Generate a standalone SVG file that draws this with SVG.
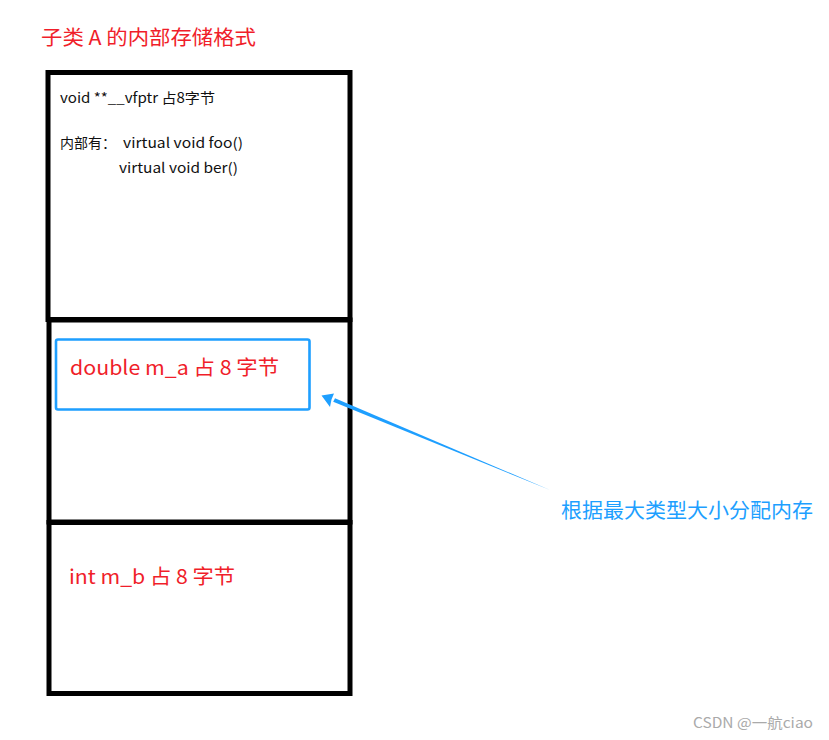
<svg xmlns="http://www.w3.org/2000/svg" width="829" height="740" viewBox="0 0 829 740">
<style>
text{font-family:"Microsoft YaHei","Noto Sans CJK SC",sans-serif}
.red{fill:#f01e2a;font-size:20px}
.blk{fill:#111;font-size:14px}
.blue{fill:#1e9fff}
.cell{fill:#fff;stroke:#000;stroke-width:5}
</style>
<rect width="829" height="740" fill="#fff"/>
<g id="title"><text class="red" x="41" y="45" textLength="215" lengthAdjust="spacingAndGlyphs">子类 A 的内部存储格式</text></g>
<g id="vfptr">
<rect class="cell" x="48" y="72.5" width="302" height="247"/>
<text class="blk" x="60" y="103" textLength="155" lengthAdjust="spacingAndGlyphs">void **__vfptr 占8字节</text>
<text class="blk" x="60" y="148">内部有：</text>
<text class="blk" x="123" y="148" textLength="120" lengthAdjust="spacingAndGlyphs">virtual void foo()</text>
<text class="blk" x="119" y="173" textLength="119" lengthAdjust="spacingAndGlyphs">virtual void ber()</text>
</g>
<g id="m_a">
<rect class="cell" x="49" y="320" width="301" height="202"/>
<rect x="56" y="339.5" width="253.5" height="70" rx="2" fill="none" stroke="#1e9fff" stroke-width="2.6"/>
<text class="red" x="70" y="375" textLength="209" lengthAdjust="spacingAndGlyphs">double m_a 占 8 字节</text>
</g>
<g id="m_b">
<rect class="cell" x="49" y="522.5" width="301" height="171"/>
<text class="red" x="69" y="584" textLength="166" lengthAdjust="spacingAndGlyphs">int m_b 占 8 字节</text>
</g>
<g id="connectors">
<path class="blue" d="M550,490 L335,398.2 L333.2,401.8 Z"/>
<path class="blue" d="M321.5,395.5 L334,393.5 L331.5,399.5 L330,407 Z"/>
</g>
<g id="note"><text class="blue" x="561" y="518" font-size="20.8" textLength="252" lengthAdjust="spacingAndGlyphs">根据最大类型大小分配内存</text></g>
<g id="watermark"><text x="693" y="728" font-size="14" fill="#aaa" textLength="120" lengthAdjust="spacingAndGlyphs">CSDN @一航ciao</text></g>
</svg>
